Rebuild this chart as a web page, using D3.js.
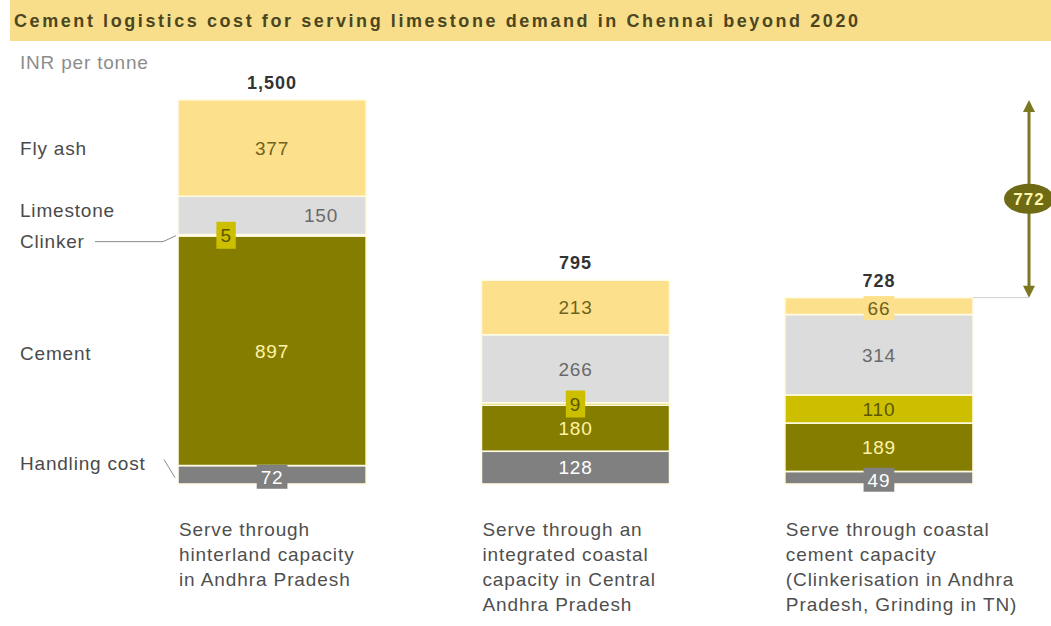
<!DOCTYPE html>
<html>
<head>
<meta charset="utf-8">
<script src="https://cdn.jsdelivr.net/npm/d3@7"></script>
<style>
  html, body { margin: 0; padding: 0; background: #ffffff; }
  svg { display: block; }
  text { font-family: "Liberation Sans", Arial, sans-serif; }
</style>
</head>
<body>
<svg id="chart" width="1051" height="626"></svg>
<script>
// Logistics cost (INR per tonne) for three ways of serving Chennai's demand
const categories = ["Hinterland AP", "Integrated coastal AP", "Coastal cement TN"];
const categoryLines = [
  ["Serve through", "hinterland capacity", "in Andhra Pradesh"],
  ["Serve through an", "integrated coastal", "capacity in Central", "Andhra Pradesh"],
  ["Serve through coastal", "cement capacity", "(Clinkerisation in Andhra", "Pradesh, Grinding in TN)"]
];
const seriesNames = ["Handling cost", "Cement", "Clinker", "Limestone", "Fly ash"];
const handlingCost = [72, 128, 49];
const cement = [897, 180, 189];
const clinker = [5, 9, 110];
const limestone = [150, 266, 314];
const flyAsh = [377, 213, 66];
const totals = [1500, 795, 728];
const totalLabels = ["1,500", "795", "728"];

const seriesValues = [handlingCost, cement, clinker, limestone, flyAsh];
const rows = categories.map((c, i) => {
  const r = { category: c };
  seriesNames.forEach((s, k) => { r[s] = seriesValues[k][i]; });
  return r;
});

const fills = {
  "Handling cost": "#808080",
  "Cement": "#857d00",
  "Clinker": "#cbbf00",
  "Limestone": "#dcdcdc",
  "Fly ash": "#fde08b"
};
const valueColors = {
  "Handling cost": "#ffffff",
  "Cement": "#fff3a6",
  "Clinker": "#5c5600",
  "Limestone": "#6a6a6a",
  "Fly ash": "#6e6320"
};

const svg = d3.select("#chart");

// Title band
svg.append("rect").attr("x", 10).attr("y", 0).attr("width", 1041).attr("height", 41)
  .attr("fill", "#f8de8a");
svg.append("text").attr("x", 14).attr("y", 27)
  .attr("font-size", 18).attr("font-weight", "bold").attr("fill", "#4b4620")
  .attr("textLength", 844).attr("lengthAdjust", "spacing")
  .text("Cement logistics cost for serving limestone demand in Chennai beyond 2020");

svg.append("text").attr("x", 20).attr("y", 69)
  .attr("font-size", 19).attr("fill", "#8c8c8c").attr("letter-spacing", 0.8)
  .text("INR per tonne");

const x = d3.scaleBand().domain(categories).range([178, 973]).paddingInner(0.38);
const y = d3.scaleLinear().domain([0, 1500]).range([484, 100]);

const stack = d3.stack().keys(seriesNames);
const layers = stack(rows);

const g = svg.append("g");
layers.forEach(layer => {
  g.selectAll(null).data(layer).enter().append("rect")
    .attr("x", d => x(d.data.category))
    .attr("width", x.bandwidth())
    .attr("y", d => y(d[1]))
    .attr("height", d => Math.max(0, y(d[0]) - y(d[1])))
    .attr("fill", fills[layer.key])
    .attr("stroke", "#fffbe4")
    .attr("stroke-width", 1.6);
});

// Horizontal nudges that keep the tiny clinker tag clear of the limestone value
const nudges = { "Hinterland AP|Clinker": -46, "Hinterland AP|Limestone": 49 };

const labels = svg.append("g");
layers.forEach(layer => {
  layer.forEach(d => {
    const key = layer.key;
    const v = d.data[key];
    const top = y(d[1]), bot = y(d[0]);
    const h = bot - top;
    const cx = x(d.data.category) + x.bandwidth() / 2 + (nudges[d.data.category + "|" + key] || 0);
    let cy = (top + bot) / 2;
    const lg = labels.append("g");
    const t = lg.append("text")
      .attr("x", cx).attr("y", cy).attr("dy", "0.36em")
      .attr("text-anchor", "middle")
      .attr("font-size", 19).attr("letter-spacing", 0.8)
      .attr("fill", valueColors[key])
      .text(v);
    if (h < 22) {
      // small segment: put the value on a tag of the segment colour
      const w = t.node().getComputedTextLength();
      const bh = key === "Clinker" ? 27 : 24;
      const bw = w + (key === "Clinker" ? 8 : 8);
      cy = cy + (key === "Clinker" ? 0 : 2);
      t.attr("y", cy);
      lg.insert("rect", "text")
        .attr("x", cx - bw / 2).attr("y", cy - bh / 2)
        .attr("width", bw).attr("height", bh)
        .attr("fill", fills[key]);
    }
  });
});

// Totals above each bar
svg.append("g").selectAll("text").data(categories).enter().append("text")
  .attr("x", d => x(d) + x.bandwidth() / 2)
  .attr("y", (d, i) => y(totals[i]) - 11)
  .attr("text-anchor", "middle")
  .attr("font-size", 18).attr("font-weight", "bold").attr("letter-spacing", 1)
  .attr("fill", "#333333")
  .text((d, i) => totalLabels[i]);

// Series names beside the first bar
const first = layers.map(l => l[0]);
const segMid = k => { const d = first[seriesNames.indexOf(k)]; return (y(d[0]) + y(d[1])) / 2; };
const leftLabels = [
  { name: "Fly ash", y: segMid("Fly ash") },
  { name: "Limestone", y: segMid("Limestone") - 5 },
  { name: "Clinker", y: y(first[2][1]) + 7 },
  { name: "Cement", y: segMid("Cement") + 2 },
  { name: "Handling cost", y: y(first[0][1]) - 2 }
];
svg.append("g").selectAll("text").data(leftLabels).enter().append("text")
  .attr("x", 20).attr("y", d => d.y).attr("dy", "0.36em")
  .attr("font-size", 19).attr("letter-spacing", 0.8).attr("fill", "#4a4a4a")
  .text(d => d.name);

const bar1x = x(categories[0]);
const leader = d3.line();
svg.append("path")
  .attr("d", leader([[95, leftLabels[2].y], [163, leftLabels[2].y], [bar1x - 2, y(first[2][1]) + 1]]))
  .attr("fill", "none").attr("stroke", "#8a8a8a").attr("stroke-width", 1);
svg.append("path")
  .attr("d", leader([[164, leftLabels[4].y - 4], [bar1x - 3, y(first[0][1]) + 12]]))
  .attr("fill", "none").attr("stroke", "#8a8a8a").attr("stroke-width", 1);

// Category captions under the bars
categories.forEach((c, i) => {
  const t = svg.append("text")
    .attr("x", x(c) + 1).attr("y", 536)
    .attr("font-size", 19).attr("letter-spacing", 0.9).attr("fill", "#4f4f4f");
  categoryLines[i].forEach((line, j) => {
    t.append("tspan").attr("x", x(c) + 1).attr("dy", j === 0 ? 0 : 25).text(line);
  });
});

// Gap between the hinterland and coastal cement options
const gap = totals[0] - totals[2];
const ax = 1029;
const yTop = y(totals[0]), yBot = y(totals[2]);
svg.append("line")
  .attr("x1", x(categories[2]) + x.bandwidth()).attr("x2", ax)
  .attr("y1", yBot).attr("y2", yBot)
  .attr("stroke", "#cfcfcf").attr("stroke-width", 1);
const arrowColor = "#7c7820";
svg.append("line").attr("x1", ax).attr("x2", ax).attr("y1", yTop + 8).attr("y2", yBot - 8)
  .attr("stroke", arrowColor).attr("stroke-width", 3);
svg.append("path")
  .attr("d", `M${ax},${yTop} L${ax - 6},${yTop + 12} L${ax + 6},${yTop + 12} Z`)
  .attr("fill", arrowColor);
svg.append("path")
  .attr("d", `M${ax},${yBot} L${ax - 6},${yBot - 12} L${ax + 6},${yBot - 12} Z`)
  .attr("fill", arrowColor);
const my = (yTop + yBot) / 2;
svg.append("ellipse").attr("cx", ax).attr("cy", my).attr("rx", 25).attr("ry", 15)
  .attr("fill", "#6f6b14");
svg.append("text").attr("x", ax).attr("y", my).attr("dy", "0.36em")
  .attr("text-anchor", "middle").attr("font-size", 17).attr("font-weight", "bold")
  .attr("letter-spacing", 1).attr("fill", "#fff6b0")
  .text(gap);
</script>
</body>
</html>
